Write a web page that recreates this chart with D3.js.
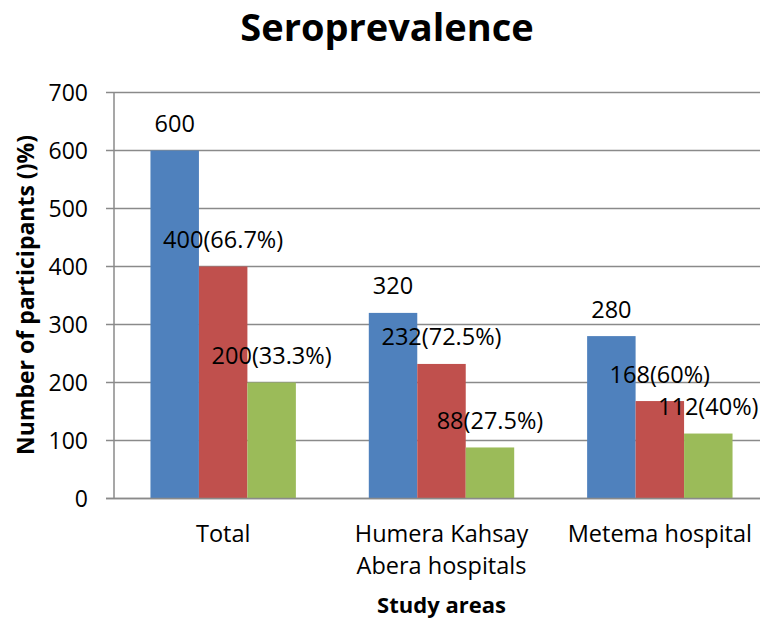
<!DOCTYPE html>
<html>
<head>
<meta charset="utf-8">
<script src="https://cdn.jsdelivr.net/npm/d3@7"></script>
<style>
  body { margin: 0; background: #fff; }
  svg text { font-family: "Open Sans", sans-serif; fill: #000; }
</style>
</head>
<body>
<svg id="chart"></svg>
<script>
// data
var areas = ["Total", "Humera Kahsay Abera hospitals", "Metema hospital"];
var areaLines = [["Total"], ["Humera Kahsay", "Abera hospitals"], ["Metema hospital"]];
var series = ["participants", "seropositive", "seronegative"];
var participants = [600, 320, 280];
var seropositive = [400, 232, 168];
var seronegative = [200, 88, 112];
var labelText = [
    ["600", "320", "280"],
    ["400(66.7%)", "232(72.5%)", "168(60%)"],
    ["200(33.3%)", "88(27.5%)", "112(40%)"]
];
var yTicks = [0, 100, 200, 300, 400, 500, 600, 700];
var colors = ["#4f81bd", "#c0504d", "#9bbb59"];

var width = 760, height = 618;
var margin = {top: 92.5, right: -9, bottom: 119.5, left: 114};

var svg = d3.select("#chart")
    .attr("width", width)
    .attr("height", height);

var x = d3.scaleBand()
    .domain(areas)
    .range([margin.left, width - margin.right])
    .paddingInner(0.334)
    .paddingOuter(0.167);

var xs = d3.scaleBand()
    .domain(series)
    .range([0, x.bandwidth()]);

var y = d3.scaleLinear()
    .domain([0, 700])
    .range([height - margin.bottom, margin.top]);

// gridlines
svg.append("g")
    .selectAll("line")
    .data(yTicks)
    .enter()
    .append("line")
    .attr("x1", margin.left - 8)
    .attr("x2", width)
    .attr("y1", function(d) { return y(d); })
    .attr("y2", function(d) { return y(d); })
    .attr("stroke", "#8a8a8a")
    .attr("stroke-width", 1.5);

// y axis line
svg.append("line")
    .attr("x1", margin.left)
    .attr("x2", margin.left)
    .attr("y1", y(700))
    .attr("y2", y(0))
    .attr("stroke", "#8a8a8a")
    .attr("stroke-width", 1.5);

// tick labels
svg.append("g")
    .selectAll("text")
    .data(yTicks)
    .enter()
    .append("text")
    .attr("x", 88)
    .attr("y", function(d) { return y(d) + 8.2; })
    .attr("text-anchor", "end")
    .style("font-size", "23px")
    .text(function(d) { return d; });

var values = [participants, seropositive, seronegative];

var groups = svg.append("g")
    .selectAll("g")
    .data(areas)
    .enter()
    .append("g")
    .attr("transform", function(d) { return "translate(" + x(d) + ",0)"; });

groups.selectAll("rect")
    .data(function(d, i) {
        return series.map(function(s, j) { return {s: s, v: values[j][i], c: colors[j]}; });
    })
    .enter()
    .append("rect")
    .attr("x", function(d) { return xs(d.s); })
    .attr("width", xs.bandwidth())
    .attr("y", function(d) { return y(d.v); })
    .attr("height", function(d) { return y(0) - y(d.v); })
    .attr("fill", function(d) { return d.c; });

// data labels (drawn after all bars so they sit on top)
var labels = svg.append("g");
areas.forEach(function(a, i) {
    series.forEach(function(s, j) {
        labels.append("text")
            .attr("x", x(a) + xs(s) + xs.bandwidth() / 2)
            .attr("y", y(values[j][i]) - 18.5)
            .attr("text-anchor", "middle")
            .style("font-size", "23.5px")
            .text(labelText[j][i]);
    });
});

// redraw baseline over bars
svg.append("line")
    .attr("x1", margin.left - 8)
    .attr("x2", width)
    .attr("y1", y(0))
    .attr("y2", y(0))
    .attr("stroke", "#8a8a8a")
    .attr("stroke-width", 1.5);

// category labels
var cat = svg.append("g")
    .selectAll("text")
    .data(areas)
    .enter()
    .append("text")
    .attr("text-anchor", "middle")
    .style("font-size", "23.5px");

cat.selectAll("tspan")
    .data(function(d, i) {
        return areaLines[i].map(function(t) { return {t: t, cx: x(d) + x.bandwidth() / 2}; });
    })
    .enter()
    .append("tspan")
    .attr("x", function(d) { return d.cx; })
    .attr("y", function(d, k) { return 541.5 + k * 32.5; })
    .text(function(d) { return d.t; });

// titles
svg.append("text")
    .attr("x", 387)
    .attr("y", 40.5)
    .attr("text-anchor", "middle")
    .style("font-size", "38px")
    .style("font-weight", "bold")
    .text("Seroprevalence");

svg.append("text")
    .attr("x", (margin.left + width - margin.right) / 2)
    .attr("y", 613)
    .attr("text-anchor", "middle")
    .style("font-size", "22px")
    .style("font-weight", "bold")
    .text("Study areas");

svg.append("text")
    .attr("transform", "translate(34," + 295 + ") rotate(-90)")
    .attr("text-anchor", "middle")
    .style("font-size", "23px")
    .style("font-weight", "bold")
    .text("Number of participants ()%)");
</script>
</body>
</html>
